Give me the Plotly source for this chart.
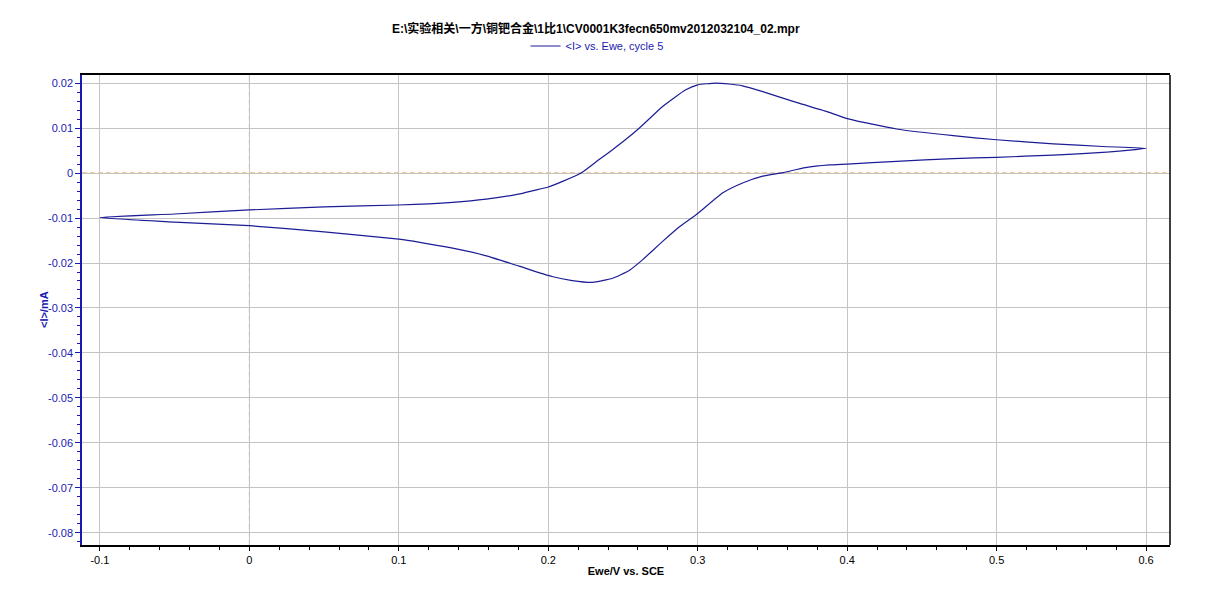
import plotly.graph_objects as go

# Forward (anodic) scan, upper branch
E_fwd = [-0.1, -0.05, 0.0, 0.05, 0.1, 0.136, 0.1585, 0.18, 0.19, 0.2, 0.21, 0.222,
         0.234, 0.243, 0.252, 0.261, 0.2765, 0.292, 0.30, 0.312, 0.321, 0.33, 0.3435,
         0.366, 0.388, 0.4, 0.433, 0.471, 0.5, 0.538, 0.571, 0.6]
I_fwd = [-0.0099, -0.0091, -0.0082, -0.0075, -0.0071, -0.0065, -0.0058, -0.0047, -0.0039,
         -0.0031, -0.0018, 0.0, 0.0030, 0.0052, 0.0075, 0.0100, 0.0148, 0.0185, 0.0196,
         0.0200, 0.0198, 0.0194, 0.0181, 0.0157, 0.0135, 0.0121, 0.0098, 0.0083, 0.0074,
         0.0065, 0.0059, 0.0055]

# Reverse (cathodic) scan, lower branch
E_rev = [0.6, 0.571, 0.538, 0.5, 0.471, 0.433, 0.4, 0.388, 0.372, 0.357, 0.3435, 0.33,
         0.3168, 0.30, 0.288, 0.2765, 0.263, 0.2544, 0.243, 0.2295, 0.216, 0.2025, 0.1805,
         0.1585, 0.136, 0.114, 0.1, 0.05, 0.0, -0.05, -0.1]
I_rev = [0.0054, 0.0046, 0.0040, 0.0035, 0.0032, 0.0026, 0.0020, 0.0018, 0.0012, 0.0001,
         -0.0007, -0.0022, -0.0044, -0.0090, -0.0119, -0.0152, -0.0193, -0.0216, -0.0234,
         -0.0243, -0.0239, -0.0230, -0.0207, -0.0184, -0.0167, -0.0154, -0.0147, -0.0131,
         -0.0117, -0.0109, -0.0099]

x_tickvals = [-0.1, 0, 0.1, 0.2, 0.3, 0.4, 0.5, 0.6]
x_ticktext = ["-0.1", "0", "0.1", "0.2", "0.3", "0.4", "0.5", "0.6"]
y_tickvals = [0.02, 0.01, 0, -0.01, -0.02, -0.03, -0.04, -0.05, -0.06, -0.07, -0.08]
y_ticktext = ["0.02", "0.01", "0", "-0.01", "-0.02", "-0.03", "-0.04", "-0.05",
              "-0.06", "-0.07", "-0.08"]

title_text = "E:\\实验相关\\一方\\铜钯合金\\1比1\\CV0001K3fecn650mv2012032104_02.mpr"
series_name = "&lt;I&gt; vs. Ewe, cycle 5"
x_title = "Ewe/V vs. SCE"
y_title = "&lt;I&gt;/mA"

LINE = "#1c1c96"
BLUE = "#1a1ab0"
ORANGE = "#dd8c28"
FONT = "Liberation Sans, Arial, Noto Sans CJK SC, sans-serif"

fig = go.Figure()
fig.add_trace(go.Scatter(
    x=E_fwd + E_rev[1:], y=I_fwd + I_rev[1:], mode="lines",
    line=dict(color=LINE, width=1.2, shape="spline", smoothing=0.5),
    name=series_name, showlegend=True))

fig.update_layout(
    width=1207, height=594,
    margin=dict(l=74, r=45, t=67, b=57, autoexpand=False),
    paper_bgcolor="white", plot_bgcolor="white",
    font=dict(family=FONT, size=11, color="black"),
    title=dict(text="<b>" + title_text + "</b>", x=0.487, xref="container",
               xanchor="center", y=0.965, yref="container", yanchor="middle",
               font=dict(size=12, color="black", family=FONT)),
    legend=dict(orientation="h", xref="container", yref="container", x=0.488,
                xanchor="center", y=0.936, yanchor="middle",
                font=dict(size=11, color=BLUE), bgcolor="rgba(0,0,0,0)",
                itemwidth=30),
    xaxis=dict(range=[-0.112, 0.616], tickvals=x_tickvals, ticktext=x_ticktext,
               automargin=False,
               showgrid=True, gridcolor="#c4c4c4", gridwidth=1, zeroline=False,
               showline=True, linecolor="black", linewidth=1.5, mirror=True,
               ticks="outside", ticklen=4, tickcolor="black",
               minor=dict(dtick=0.02, ticks="outside", ticklen=3, tickcolor="black",
                          showgrid=False),
               tickfont=dict(size=11, color="black"),
               title=dict(text="<b>" + x_title + "</b>", font=dict(size=11, color="black"),
                          standoff=2)),
    yaxis=dict(range=[-0.0827, 0.0218], tickvals=y_tickvals, ticktext=y_ticktext,
               automargin=False,
               showgrid=True, gridcolor="#c4c4c4", gridwidth=1, zeroline=False,
               showline=True, linecolor=BLUE, linewidth=1.5, mirror=False,
               ticks="outside", ticklen=5, tickcolor=BLUE,
               minor=dict(dtick=0.002, ticks="outside", ticklen=3, tickcolor=BLUE,
                          showgrid=False),
               tickfont=dict(size=11, color=BLUE)),
)

# y-axis title placed as annotation for exact position
fig.add_annotation(text="<b>" + y_title + "</b>", xref="paper", yref="paper",
                   x=-0.0349, y=0.5, xanchor="center", yanchor="middle",
                   textangle=-90, showarrow=False, font=dict(size=11, color=BLUE))

# right border
fig.add_shape(type="line", xref="paper", yref="paper", x0=1, x1=1, y0=0, y1=1,
              line=dict(color="black", width=1.5), layer="above")
# dashed zero reference lines
fig.add_shape(type="line", xref="x", yref="paper", x0=0, x1=0, y0=0, y1=1,
              line=dict(color=ORANGE, width=1, dash="5px,3px"), layer="below")
fig.add_shape(type="line", xref="paper", yref="y", x0=0, x1=1, y0=0, y1=0,
              line=dict(color=ORANGE, width=1, dash="5px,3px"), layer="below")

fig.write_html("out.html")
